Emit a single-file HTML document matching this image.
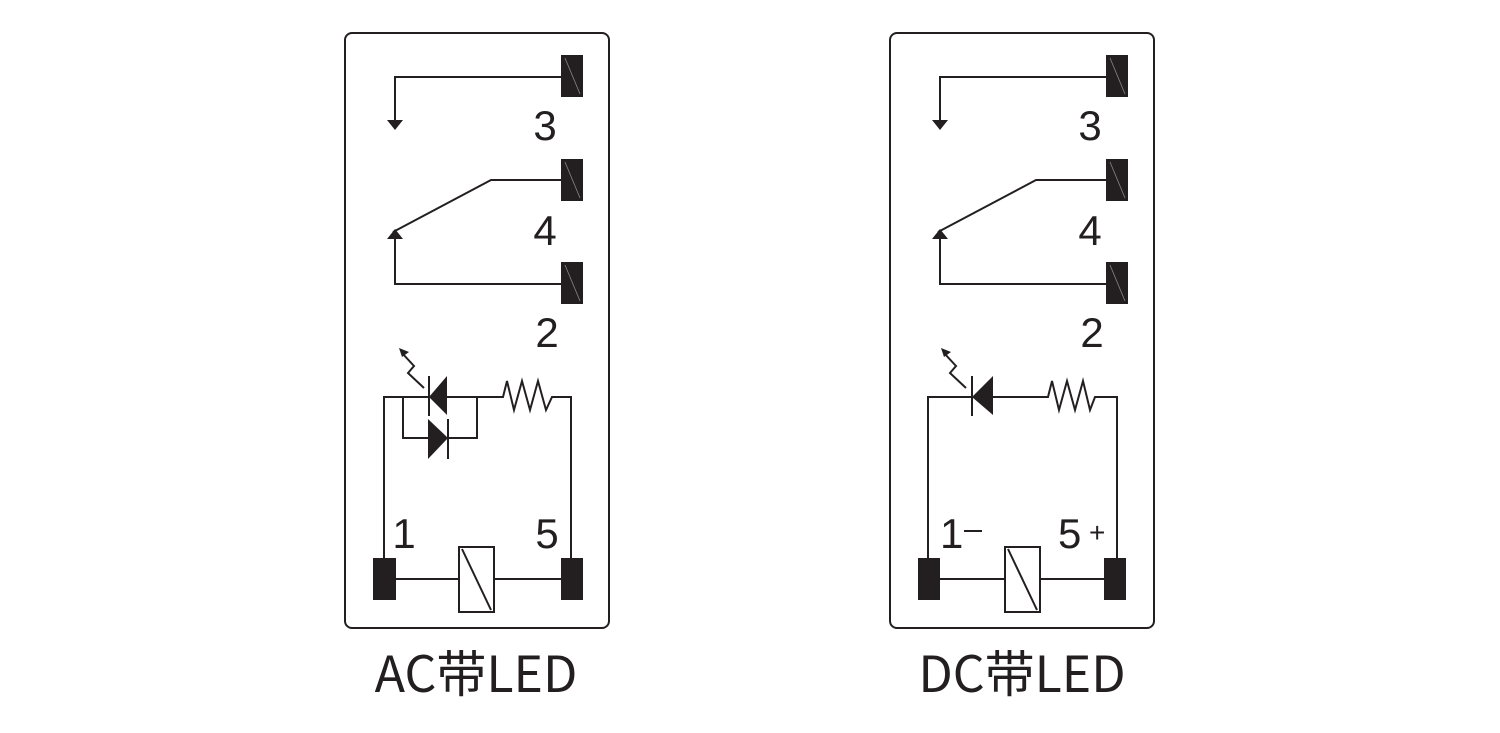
<!DOCTYPE html>
<html><head><meta charset="utf-8"><style>
html,body{margin:0;padding:0;background:#fff;}
svg{display:block}
text{font-family:"Liberation Sans",sans-serif;fill:#231f20}
.cap{font-family:"Noto Sans CJK SC","Liberation Sans",sans-serif;font-size:50px}
</style></head><body>
<svg width="1500" height="733" viewBox="0 0 1500 733" xmlns="http://www.w3.org/2000/svg">
<defs>
<g id="top">
  <rect x="345" y="33" width="264" height="595" rx="7" fill="none" stroke="#231f20" stroke-width="2"/>
  <g fill="#231f20">
    <rect x="561" y="55" width="22" height="42"/>
    <rect x="561" y="159" width="22" height="42"/>
    <rect x="561" y="262" width="22" height="42"/>
  </g>
  <g stroke="#888" stroke-width="0.8">
    <line x1="565" y1="58" x2="580" y2="94"/>
    <line x1="565" y1="162" x2="580" y2="198"/>
    <line x1="565" y1="265" x2="580" y2="301"/>
  </g>
  <g fill="none" stroke="#231f20" stroke-width="2">
    <polyline points="561,77 395,77 395,121"/>
    <polyline points="561,180 491,180 393,232"/>
    <polyline points="395,236 395,284 561,284"/>
  </g>
  <polygon points="387,120 403,120 395,130" fill="#231f20"/>
  <polygon points="387,239 403,239 395,229" fill="#231f20"/>
  <text x="545" y="140" font-size="42" text-anchor="middle">3</text>
  <text x="545" y="245" font-size="42" text-anchor="middle">4</text>
  <text x="547" y="347" font-size="42" text-anchor="middle">2</text>
</g>
</defs>

<use href="#top"/>
<use href="#top" transform="translate(545,0)"/>

<!-- AC bottom circuit -->
<g fill="none" stroke="#231f20" stroke-width="2">
  <polyline points="384,558 384,397 429,397"/>
  <polyline points="447,397 503,397 507,381 514,410 522,381 530,410 538,381 546,410 552,397 571,397 571,558"/>
  <polyline points="403,397 403,438 428,438"/>
  <polyline points="448,438 477,438 477,397"/>
  <line x1="429" y1="376" x2="429" y2="416"/>
  <line x1="448" y1="419" x2="448" y2="459"/>
  <polyline points="424,388 408,373 414,366 402,353"/>
  <line x1="396" y1="579" x2="459" y2="579"/>
  <line x1="494" y1="579" x2="561" y2="579"/>
  <rect x="459" y="547" width="35" height="65"/>
  <line x1="462" y1="549" x2="491" y2="610"/>
</g>
<polygon points="429,397 447,376 447,415" fill="#231f20"/>
<polygon points="428,419 448,438 428,459" fill="#231f20"/>
<polygon points="399,348 409,352 402,357" fill="#231f20"/>
<rect x="373" y="558" width="23" height="42" fill="#231f20"/>
<rect x="561" y="558" width="22" height="42" fill="#231f20"/>
<text x="404" y="548" font-size="42" text-anchor="middle">1</text>
<text x="547" y="548" font-size="42" text-anchor="middle">5</text>
<text class="cap" x="476" y="692" text-anchor="middle">AC带LED</text>

<!-- DC bottom circuit -->
<g fill="none" stroke="#231f20" stroke-width="2">
  <polyline points="928,558 928,397 972,397"/>
  <polyline points="993,397 1048,397 1052,381 1059,410 1067,381 1075,410 1083,381 1090,410 1095,397 1117,397 1117,558"/>
  <line x1="972" y1="376" x2="972" y2="416"/>
  <polyline points="966,388 950,373 956,366 944,353"/>
  <line x1="940" y1="579" x2="1005" y2="579"/>
  <line x1="1040" y1="579" x2="1104" y2="579"/>
  <rect x="1005" y="547" width="35" height="65"/>
  <line x1="1008" y1="549" x2="1037" y2="610"/>
</g>
<polygon points="972,397 993,376 993,415" fill="#231f20"/>
<polygon points="941,348 951,352 944,357" fill="#231f20"/>
<rect x="918" y="558" width="22" height="42" fill="#231f20"/>
<rect x="1104" y="558" width="22" height="42" fill="#231f20"/>
<text x="940" y="548" font-size="42">1</text>
<line x1="964" y1="531" x2="982" y2="531" stroke="#231f20" stroke-width="2"/>
<text x="1058" y="548" font-size="42">5</text>
<text x="1089" y="542" font-size="28">+</text>
<text class="cap" x="1022" y="692" text-anchor="middle">DC带LED</text>
</svg>
</body></html>
